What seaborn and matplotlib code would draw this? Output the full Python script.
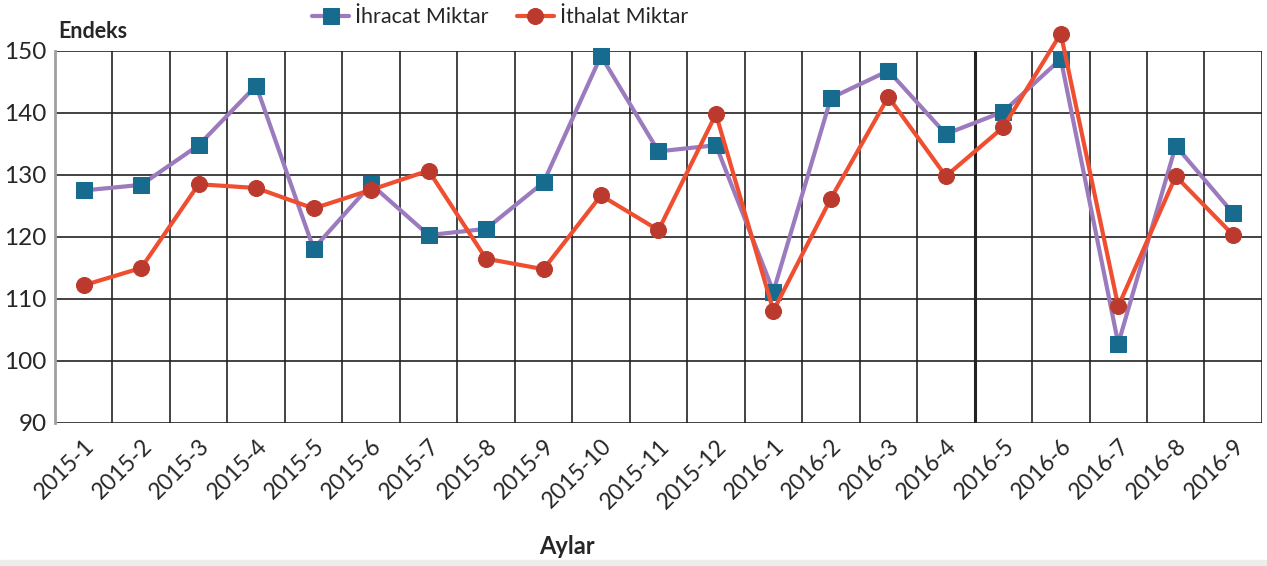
import numpy as np
import pandas as pd
import matplotlib.pyplot as plt
import seaborn as sns

# Data
months = ["2015-1", "2015-2", "2015-3", "2015-4", "2015-5", "2015-6", "2015-7",
          "2015-8", "2015-9", "2015-10", "2015-11", "2015-12",
          "2016-1", "2016-2", "2016-3", "2016-4", "2016-5", "2016-6",
          "2016-7", "2016-8", "2016-9"]
ihracat = [127.5, 128.4, 134.8, 144.4, 118.1, 128.5, 120.3, 121.3, 128.8, 149.2,
           133.8, 134.8, 111.2, 142.4, 146.8, 136.6, 140.2, 148.7, 102.8, 134.7, 123.8]
ithalat = [112.2, 115.0, 128.5, 127.9, 124.6, 127.6, 130.7, 116.5, 114.8, 126.7,
           121.1, 139.8, 108.1, 126.2, 142.6, 129.8, 137.7, 152.8, 108.8, 129.8, 120.3]

df = pd.DataFrame({"pos": np.arange(len(months)), "ay": months,
                   "ihracat": ihracat, "ithalat": ithalat})

sns.set_style("white")
plt.rcParams["font.family"] = ["Lato", "DejaVu Sans"]

fig = plt.figure(figsize=(12.67, 5.66), dpi=100)
ax = fig.add_axes([0.0434, 0.2527, 0.9526, 0.6573])

sns.lineplot(data=df, x="pos", y="ihracat", ax=ax, color="#9b7bbd", lw=3,
             marker="s", markersize=12, markerfacecolor="#176b8f",
             markeredgecolor="#176b8f", label="İhracat Miktar", zorder=4)
sns.lineplot(data=df, x="pos", y="ithalat", ax=ax, color="#f04e30", lw=3,
             marker="o", markersize=11.5, markerfacecolor="#bc3a2d",
             markeredgecolor="#bc3a2d", label="İthalat Miktar", zorder=5)
for ln in ax.lines:
    ln.set_clip_on(False)

n = len(months)
ax.set_xlim(-0.5, n - 0.5)
ax.set_ylim(90, 150)
ax.set_yticks(range(90, 151, 10))
ax.set_xticks(df["pos"])
ax.set_xticklabels(months, rotation=45, ha="right", rotation_mode="anchor", fontsize=16.5)
ax.set_xticks(np.arange(n + 1) - 0.5, minor=True)
ax.tick_params(axis="x", which="major", length=0, pad=9)
ax.tick_params(axis="x", which="minor", length=9, width=1.2, color="#222222", direction="out")
ax.tick_params(axis="y", length=0, labelsize=17.5, pad=6)

ax.grid(False)
ax.grid(True, which="minor", axis="x", color="#222222", lw=1.2)
ax.grid(True, which="major", axis="y", color="#222222", lw=1.2)
ax.axvline(15.5, color="#222222", lw=2.2, zorder=1)
for s in ["top", "right", "bottom"]:
    ax.spines[s].set_visible(False)
ax.spines["left"].set_color("#a0a0a0")
ax.spines["left"].set_linewidth(2)

ax.set_xlabel("Aylar", fontsize=17, fontweight="bold")
ax.xaxis.set_label_coords(0.424, -0.30)
ax.set_ylabel("")
fig.text(0.046, 0.945, "Endeks", fontsize=15.5, fontweight="bold", va="center")

ax.legend(loc="center", bbox_to_anchor=(0.369, 1.091), ncol=2, frameon=False,
          fontsize=15.5, handlelength=1.7, columnspacing=1.3, handletextpad=0.3,
          borderaxespad=0, borderpad=0)

fig.patches.append(plt.Rectangle((0, 0), 1, 0.011, transform=fig.transFigure,
                                 color="#eceeec", zorder=0))

fig.savefig("out.png", dpi=100)
